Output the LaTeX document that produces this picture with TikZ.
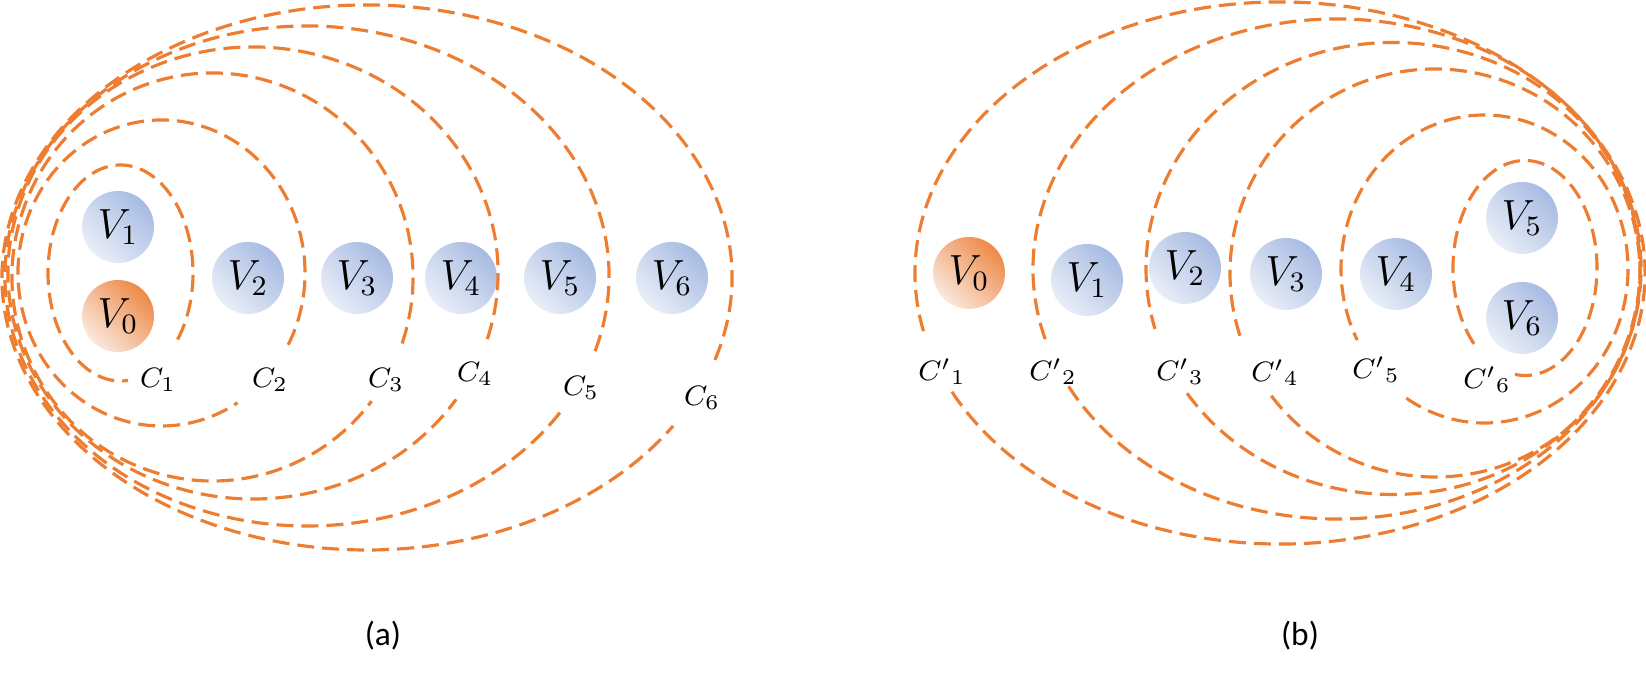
\documentclass[tikz,border=0pt]{standalone}
\usepackage{fontspec}
\newfontfamily\capfont{Carlito}
\definecolor{cutorange}{HTML}{ED7D31}
\definecolor{vblue}{HTML}{A7BBE2}
\definecolor{vbluelight}{HTML}{E9EEF8}
\definecolor{vorange}{HTML}{ED8A48}
\definecolor{vorangelight}{HTML}{FAE8DD}
\begin{document}
\begin{tikzpicture}[x=0.1mm,y=0.1mm,
  cut/.style={draw=cutorange,line width=0.9pt,dash pattern=on 1.7mm off 0.8mm},
  vertex/.style={circle,minimum size=7.2mm,inner sep=0pt,top color=vblue,bottom color=vbluelight,shading angle=-45,font=\fontsize{12}{14}\selectfont},
  source/.style={vertex,top color=vorange,bottom color=vorangelight,shading angle=-45},
  cutlabel/.style={inner sep=0pt,font=\fontsize{8.5}{10}\selectfont},
  caption/.style={inner sep=0pt,font=\capfont\fontsize{9.5}{11}\selectfont}]
  \useasboundingbox (0,0) rectangle (1646,678);
  % (a)
  \node[vertex] (a1) at (118,451) {$V_1$};
  \node[source] (a0) at (118,362) {$V_0$};
  \node[vertex] (a2) at (248,400) {$V_2$};
  \node[vertex] (a3) at (357,400) {$V_3$};
  \node[vertex] (a4) at (461,400) {$V_4$};
  \node[vertex] (a5) at (560,400) {$V_5$};
  \node[vertex] (a6) at (672,400) {$V_6$};
  \coordinate (ca1) at (120.5,405);
  \coordinate (ca2) at (161.5,405);
  \coordinate (ca3) at (212.5,401);
  \coordinate (ca4) at (253,405);
  \coordinate (ca5) at (307,402);
  \coordinate (ca6) at (367,400.5);
  \draw[cut] (ca1) ++(-38:72.5 and 108) arc[start angle=-38,end angle=276,x radius=72.5,y radius=108];
  \draw[cut] (ca2) ++(-28:143.5 and 153) arc[start angle=-28,end angle=302,x radius=143.5,y radius=153];
  \draw[cut] (ca3) ++(-19:200.5 and 204) arc[start angle=-19,end angle=322.5,x radius=200.5,y radius=204];
  \draw[cut] (ca4) ++(-17:245 and 226) arc[start angle=-17,end angle=326,x radius=245,y radius=226];
  \draw[cut] (ca5) ++(-17.5:302 and 250) arc[start angle=-17.5,end angle=327,x radius=302,y radius=250];
  \draw[cut] (ca6) ++(-17.6:365 and 272.5) arc[start angle=-17.6,end angle=327,x radius=365,y radius=272.5];
  \node[cutlabel] (la1) at (158,298) {$C_1$};
  \node[cutlabel] (la2) at (270,298) {$C_2$};
  \node[cutlabel] (la3) at (386,298) {$C_3$};
  \node[cutlabel] (la4) at (475,304) {$C_4$};
  \node[cutlabel] (la5) at (581,290) {$C_5$};
  \node[cutlabel] (la6) at (702,280) {$C_6$};
  \node[caption] (capa) at (383,42) {(a)};
  % (b)
  \node[source] (b0) at (969,405) {$V_0$};
  \node[vertex] (b1) at (1087,398) {$V_1$};
  \node[vertex] (b2) at (1185,410) {$V_2$};
  \node[vertex] (b3) at (1286,404) {$V_3$};
  \node[vertex] (b4) at (1396,404) {$V_4$};
  \node[vertex] (b5) at (1522,460) {$V_5$};
  \node[vertex] (b6) at (1522,360) {$V_6$};
  \coordinate (cb1) at (1280,405);
  \coordinate (cb2) at (1337,409);
  \coordinate (cb3) at (1393,409.5);
  \coordinate (cb4) at (1435,405);
  \coordinate (cb5) at (1484.5,409);
  \coordinate (cb6) at (1525,410);
  \draw[cut] (cb1) ++(206:365 and 271) arc[start angle=206,end angle=554,x radius=365,y radius=271];
  \draw[cut] (cb2) ++(208:304 and 250) arc[start angle=208,end angle=557,x radius=304,y radius=250];
  \draw[cut] (cb3) ++(213.5:247 and 226) arc[start angle=213.5,end angle=555.5,x radius=247,y radius=226];
  \draw[cut] (cb4) ++(217:205 and 204) arc[start angle=217,end angle=558.5,x radius=205,y radius=204];
  \draw[cut] (cb5) ++(237:143.5 and 154) arc[start angle=237,end angle=567.5,x radius=143.5,y radius=154];
  \draw[cut] (cb6) ++(262:72 and 107.5) arc[start angle=262,end angle=587,x radius=72,y radius=107.5];
  \node[cutlabel] (lb1) at (942,306) {${C'}_1$};
  \node[cutlabel] (lb2) at (1053,306) {${C'}_2$};
  \node[cutlabel] (lb3) at (1180,306) {${C'}_3$};
  \node[cutlabel] (lb4) at (1275,305) {${C'}_4$};
  \node[cutlabel] (lb5) at (1376,308) {${C'}_5$};
  \node[cutlabel] (lb6) at (1487,298) {${C'}_6$};
  \node[caption] (capb) at (1300,42) {(b)};
\end{tikzpicture}
\end{document}
